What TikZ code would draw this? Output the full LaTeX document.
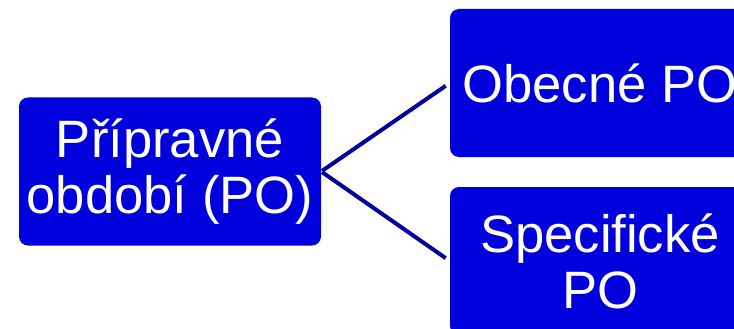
\documentclass[tikz,border=0pt]{standalone}
\usepackage{fontspec}
\setmainfont{Liberation Sans}
\usepackage{tikz}
\usetikzlibrary{positioning}
\definecolor{boxblue}{RGB}{0,0,220}
\definecolor{lineblue}{RGB}{0,0,155}
\tikzstyle{po}=[%
      rectangle, rounded corners=9pt, draw=none, fill=boxblue, text=white,
      minimum width=302pt, minimum height=148pt, inner sep=4pt, align=center,
      font=\fontsize{52.6}{56}\selectfont
]
\tikzstyle{link}=[%
      draw=lineblue, line width=4pt, shorten >=5pt, shorten <=1pt
]

\begin{document}
\begin{tikzpicture}[x=1pt, y=-1pt]
  \useasboundingbox (0,0) rectangle (734,329);
  \clip (0,0) rectangle (734,329);
    \node[po] (pripravne) at (170,171.5) {Přípravné\\období (PO)};
    \node[po, minimum width=300pt] (obecne) at (600,83) {Obecné PO};
    \node[po, minimum width=300pt] (specificke) at (600,261) {Specifické\\PO};

    \path (pripravne.east) edge[link] (obecne.west)
          (pripravne.east) edge[link] (specificke.west)
    ;
\end{tikzpicture}
\end{document}
